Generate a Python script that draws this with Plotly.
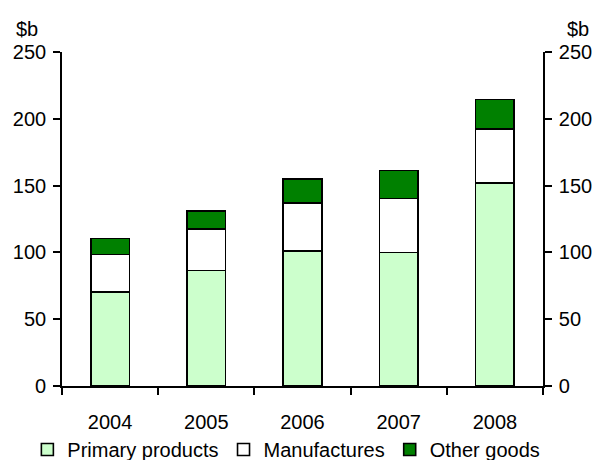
import plotly.graph_objects as go

years = ["2004", "2005", "2006", "2007", "2008"]
primary = [70.3, 86.4, 101.1, 99.8, 151.8]
manufactures = [28.1, 31.1, 36.0, 40.6, 40.4]
other = [11.9, 13.6, 17.7, 20.9, 22.2]
y_ticks = [0, 50, 100, 150, 200, 250]

FONT = "Arial, Liberation Sans, sans-serif"
FS = 20

fig = go.Figure()
series = [
    ("Primary products", primary, "#ccffcc"),
    ("Manufactures", manufactures, "#ffffff"),
    ("Other goods", other, "#008000"),
]
for name, vals, col in series:
    fig.add_trace(go.Bar(
        x=years, y=vals, name=name, width=0.4,
        marker=dict(color=col, line=dict(color="black", width=1.6)),
    ))

axis_common = dict(
    range=[0, 250], tickvals=y_ticks, ticks="outside", ticklen=7, tickwidth=1.5,
    tickcolor="black", showline=True, linecolor="black", linewidth=1.6,
    showgrid=False, zeroline=False, automargin=False, ticklabelstandoff=3,
    tickfont=dict(family=FONT, size=FS, color="black"),
)

fig.update_layout(
    width=609, height=460,
    margin=dict(l=62, r=66, t=52, b=74, autoexpand=False),
    paper_bgcolor="white", plot_bgcolor="white",
    barmode="stack",
    font=dict(family=FONT, size=FS, color="black"),
    xaxis=dict(
        type="category", showline=True, linecolor="black", linewidth=1.6,
        ticks="outside", tickson="boundaries", ticklen=7, tickwidth=1.5, tickcolor="black",
        showgrid=False, automargin=False, tickfont=dict(family=FONT, size=FS, color="black"),
        ticklabelstandoff=17,
    ),
    yaxis=dict(side="left", **axis_common),
    yaxis2=dict(side="right", overlaying="y", **axis_common),
    legend=dict(
        orientation="h", x=-0.072, xanchor="left", y=-0.19, yanchor="middle",
        font=dict(family=FONT, size=FS, color="black"), traceorder="normal",
        itemwidth=30, tracegroupgap=0,
    ),
    annotations=[
        dict(text="$b", xref="paper", yref="paper", x=0, y=1.07, xanchor="right",
             xshift=-22, yanchor="middle", showarrow=False, font=dict(family=FONT, size=FS)),
        dict(text="$b", xref="paper", yref="paper", x=1, y=1.07, xanchor="left",
             xshift=22, yanchor="middle", showarrow=False, font=dict(family=FONT, size=FS)),
    ],
)

# invisible trace to anchor the right-hand axis
fig.add_trace(go.Scatter(x=years, y=[None] * len(years), yaxis="y2", showlegend=False,
                         hoverinfo="skip", mode="markers"))

fig.write_html("out.html", config={"displayModeBar": False},
               post_script="document.body.style.margin='0';")
